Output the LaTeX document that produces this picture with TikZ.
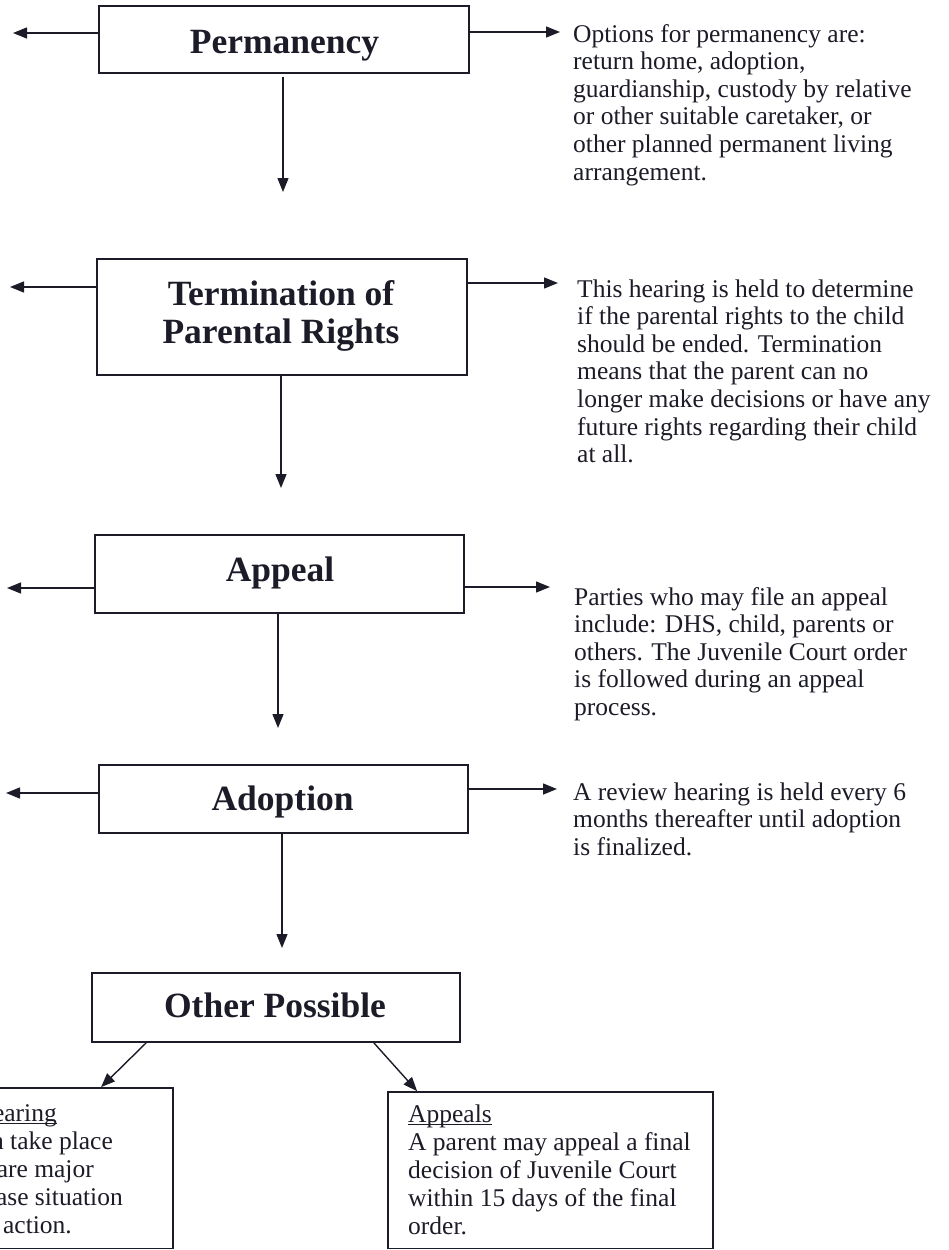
\documentclass[tikz,border=0pt]{standalone}
\usepackage{fontspec}
\setmainfont{Liberation Serif}
\usetikzlibrary{arrows.meta,calc}
\definecolor{ink}{RGB}{28,28,40}
\newcommand\ulin[1]{\setbox0\hbox{#1}\rlap{\rule[-2.6pt]{\wd0}{1.1pt}}\box0}
\newcommand\linestack[2]{\begin{tabular}[t]{@{}#1@{}}#2\end{tabular}}
\begin{document}
\begin{tikzpicture}[x=1pt,y=-1pt,
  stagebox/.style={draw=ink, line width=1.8pt, rectangle, inner sep=0pt},
  title/.style={font=\fontsize{35.5}{38}\selectfont\bfseries, text=ink, inner sep=0pt, anchor=base},
  note/.style={font=\fontsize{25.5}{27.6}\selectfont, text=ink, inner sep=0pt, anchor=base west},
  boxnote/.style={font=\fontsize{25.5}{28.2}\selectfont, text=ink, inner sep=0pt, anchor=base west},
  frag/.style={font=\fontsize{25.5}{28.2}\selectfont, text=ink, inner sep=0pt, anchor=base east},
  arr/.style={draw=ink, line width=1.4pt, -{Triangle[length=14pt,width=11pt]}},
]
\useasboundingbox (0,0) rectangle (949,1250);
\clip (0,0) rectangle (949,1250);

% stage boxes
\node[stagebox, minimum width=370pt, minimum height=67pt] (perm) at (284,39.5) {};
\node[stagebox, minimum width=370pt, minimum height=116pt] (term) at (282,317) {};
\node[stagebox, minimum width=369pt, minimum height=78pt] (appl) at (279.5,574) {};
\node[stagebox, minimum width=369pt, minimum height=68pt] (adop) at (283.5,799) {};
\node[stagebox, minimum width=368pt, minimum height=69pt] (othr) at (276,1007.5) {};
\node[stagebox, minimum width=193pt, minimum height=160.5pt] (rev) at (76.5,1168.25) {};
\node[stagebox, minimum width=325pt, minimum height=156.5pt] (apls) at (550.5,1170.25) {};

% titles
\node[title] (permT) at (284.5,53) {Permanency};
\node[title] (termT) at (281,305) {\linestack{c}{Termination of\\Parental Rights}};
\node[title] (applT) at (280,581) {Appeal};
\node[title] (adopT) at (282.6,810) {Adoption};
\node[title] (othrT) at (275,1017) {Other Possible};

% side notes
\node[note] (permN) at (573,42) {\linestack{l}{Options for permanency are:\\return home, adoption,\\guardianship, custody by relative\\or other suitable caretaker, or\\other planned permanent living\\arrangement.}};
\node[note] (termN) at (577,297) {\linestack{l}{This hearing is held to determine\\if the parental rights to the child\\should be ended. Termination\\means that the parent can no\\longer make decisions or have any\\future rights regarding their child\\at all.}};
\node[note] (applN) at (574,605) {\linestack{l}{Parties who may file an appeal\\include: DHS, child, parents or\\others. The Juvenile Court order\\is followed during an appeal\\process.}};
\node[note] (adopN) at (573,800) {\linestack{l}{A review hearing is held every 6\\months thereafter until adoption\\is finalized.}};

% bottom box texts
\node[boxnote] (aplsN) at (408,1122) {\linestack{l}{\ulin{Appeals}\\A parent may appeal a final\\decision of Juvenile Court\\within 15 days of the final\\order.}};
\node[frag] (revA) at (57,1121) {\ulin{earing}};
\node[frag] (revB) at (113,1149) {n take place};
\node[frag] (revC) at (94,1177) {are major};
\node[frag] (revD) at (123,1205) {ase situation};
\node[frag] (revE) at (72,1233) {action.};

% arrow end points
\coordinate (permL) at (13,33);
\coordinate (permR) at (560,32);
\coordinate (permD) at (283,192);
\coordinate (termL) at (10,287);
\coordinate (termR) at (558,283);
\coordinate (termD) at (281,488);
\coordinate (applL) at (7,588);
\coordinate (applR) at (550,587);
\coordinate (applD) at (278,728);
\coordinate (adopL) at (6,793);
\coordinate (adopR) at (557,789);
\coordinate (adopD) at (282,948);

% connectors
\draw[arr] (perm.west |- permL) -- (permL);
\draw[arr] (perm.east |- permR) -- (permR);
\draw[arr] ($(perm.south -| permD)+(0,3)$) -- (permD);
\draw[arr] (term.west |- termL) -- (termL);
\draw[arr] (term.east |- termR) -- (termR);
\draw[arr] (term.south -| termD) -- (termD);
\draw[arr] (appl.west |- applL) -- (applL);
\draw[arr] (appl.east |- applR) -- (applR);
\draw[arr] (appl.south -| applD) -- (applD);
\draw[arr] (adop.west |- adopL) -- (adopL);
\draw[arr] (adop.east |- adopR) -- (adopR);
\draw[arr] (adop.south -| adopD) -- (adopD);
\draw[arr] ($(othr.south west)+(55,0)$) -- ($(rev.north west)+(122,0)$);
\draw[arr] ($(othr.south east)+(-87,0)$) -- ($(apls.north west)+(30,0)$);
\end{tikzpicture}
\end{document}
